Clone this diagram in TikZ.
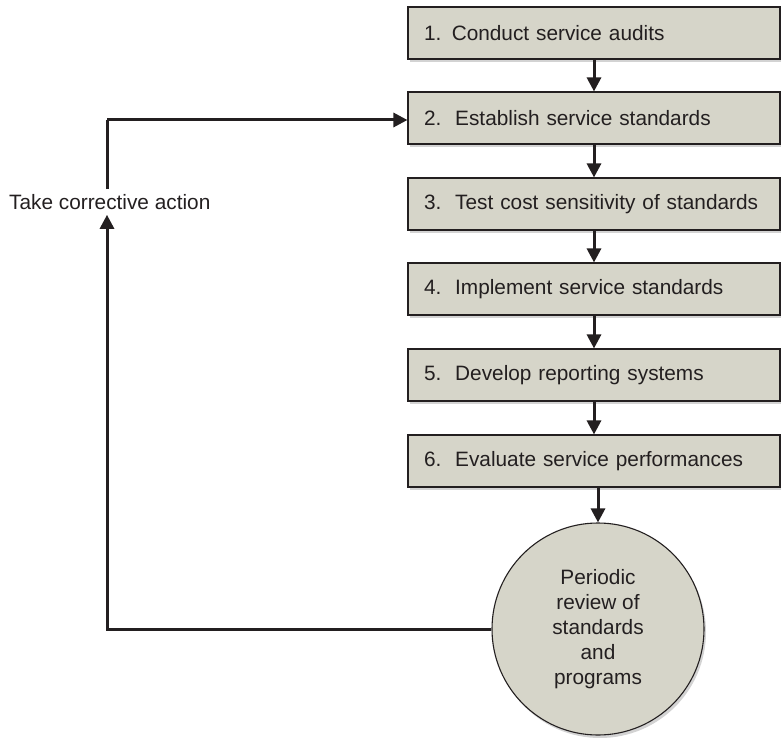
\documentclass[tikz,border=0pt]{standalone}
\usepackage{fontspec}
\setmainfont{Liberation Sans}
\usetikzlibrary{arrows.meta,shadows}
\definecolor{boxfill}{HTML}{D6D5C9}
\definecolor{inkline}{HTML}{231F20}
\begin{document}
\begin{tikzpicture}[x=1pt,y=-1pt,
  stepbox/.style={draw=inkline,line width=1.1pt,fill=boxfill,minimum width=372pt,minimum height=52pt,
    text width=340pt,align=left,inner xsep=16pt,font=\fontsize{20.8}{24}\selectfont,text=inkline,
    drop shadow={shadow xshift=2pt,shadow yshift=-3pt,opacity=0.35}},
  reviewnode/.style={circle,draw=inkline,line width=1.1pt,fill=boxfill,minimum size=212pt,inner sep=0pt,
    align=center,font=\fontsize{20.8}{25}\selectfont,text=inkline,
    drop shadow={shadow xshift=2pt,shadow yshift=-3pt,opacity=0.35}},
  flow/.style={draw=inkline,line width=3pt,-{Triangle[length=14pt,width=14pt]}},
  plain/.style={draw=inkline,line width=3pt}]
\useasboundingbox (0,0) rectangle (781,738);
\node[stepbox] (s1) at (594,33) {1. Conduct service audits};
\node[stepbox] (s2) at (594,118) {2.\ \ Establish service standards};
\node[stepbox] (s3) at (594,204) {3.\ \ Test cost sensitivity of standards};
\node[stepbox] (s4) at (594,289) {4.\ \ Implement service standards};
\node[stepbox] (s5) at (594,375) {5.\ \ Develop reporting systems};
\node[stepbox] (s6) at (594,461) {6.\ \ Evaluate service performances};
\node[reviewnode] (rev) at (598,629) {Periodic\\review of\\standards\\and\\programs};
\node[font=\fontsize{20.8}{24}\selectfont,text=inkline,anchor=west,inner sep=0pt] (act) at (9,202) {Take corrective action};
\coordinate (lowcorner) at (107,629);
\coordinate (upcorner) at (107,120);
\draw[flow] (s1) -- (s2);
\draw[flow] (s2) -- (s3);
\draw[flow] (s3) -- (s4);
\draw[flow] (s4) -- (s5);
\draw[flow] (s5) -- (s6);
\draw[flow] (s6.south -| rev.north) -- (rev.north);
\draw[flow] (rev.west) -- (lowcorner) -- ([yshift=-5pt]act.south -| lowcorner);
\draw[plain] ([yshift=5pt]act.north -| upcorner) -- (upcorner);
\draw[flow] (upcorner) -- (s2.west |- upcorner);
\end{tikzpicture}
\end{document}
